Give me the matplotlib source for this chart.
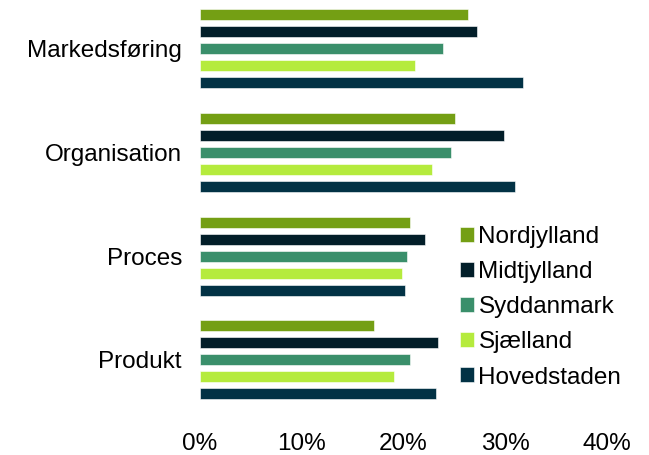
import matplotlib.pyplot as plt
import numpy as np
from matplotlib.ticker import PercentFormatter

plt.rcParams['font.family'] = ['Liberation Sans', 'DejaVu Sans']

# Data (share, %)
categories = ['Markedsføring', 'Organisation', 'Proces', 'Produkt']
regions = ['Nordjylland', 'Midtjylland', 'Syddanmark', 'Sjælland', 'Hovedstaden']
nordjylland = [26.3, 25.1, 20.6, 17.1]
midtjylland = [27.2, 29.9, 22.1, 23.4]
syddanmark = [23.9, 24.7, 20.3, 20.6]
sjaelland = [21.1, 22.8, 19.9, 19.1]
hovedstaden = [31.7, 31.0, 20.1, 23.2]
series = [nordjylland, midtjylland, syddanmark, sjaelland, hovedstaden]
colors = ['#749F14', '#021E29', '#3A8F6B', '#B5EB3D', '#023245']

fig = plt.figure(figsize=(6.49, 4.55), dpi=100)
ax = fig.add_axes([200 / 649, 0.0952, 407 / 649, 0.9048])

y = np.arange(len(categories))
step = 0.164
height = 0.106
for j, (vals, col, name) in enumerate(zip(series, colors, regions)):
    ax.barh(y + (j - 2) * step, vals, height=height, color=col, label=name,
            edgecolor='white', linewidth=0.4)

ax.set_xlim(0, 40)
ax.set_ylim(3.5, -0.47)
ax.set_xticks([0, 10, 20, 30, 40])
ax.xaxis.set_major_formatter(PercentFormatter(decimals=0))
ax.set_yticks(y)
ax.set_yticklabels(categories)
ax.tick_params(axis='both', length=0, labelsize=17.5)
ax.tick_params(axis='x', pad=15)
ax.tick_params(axis='y', pad=13)
for s in ax.spines.values():
    s.set_visible(False)

ax.legend(loc='upper left', bbox_to_anchor=(460 / 649, 1 - 226 / 455),
          bbox_transform=fig.transFigure, frameon=False, fontsize=17.5,
          handlelength=0.58, handleheight=0.58, handletextpad=0.18,
          labelspacing=0.54, borderaxespad=0, borderpad=0)

fig.savefig('out.png', dpi=100)
